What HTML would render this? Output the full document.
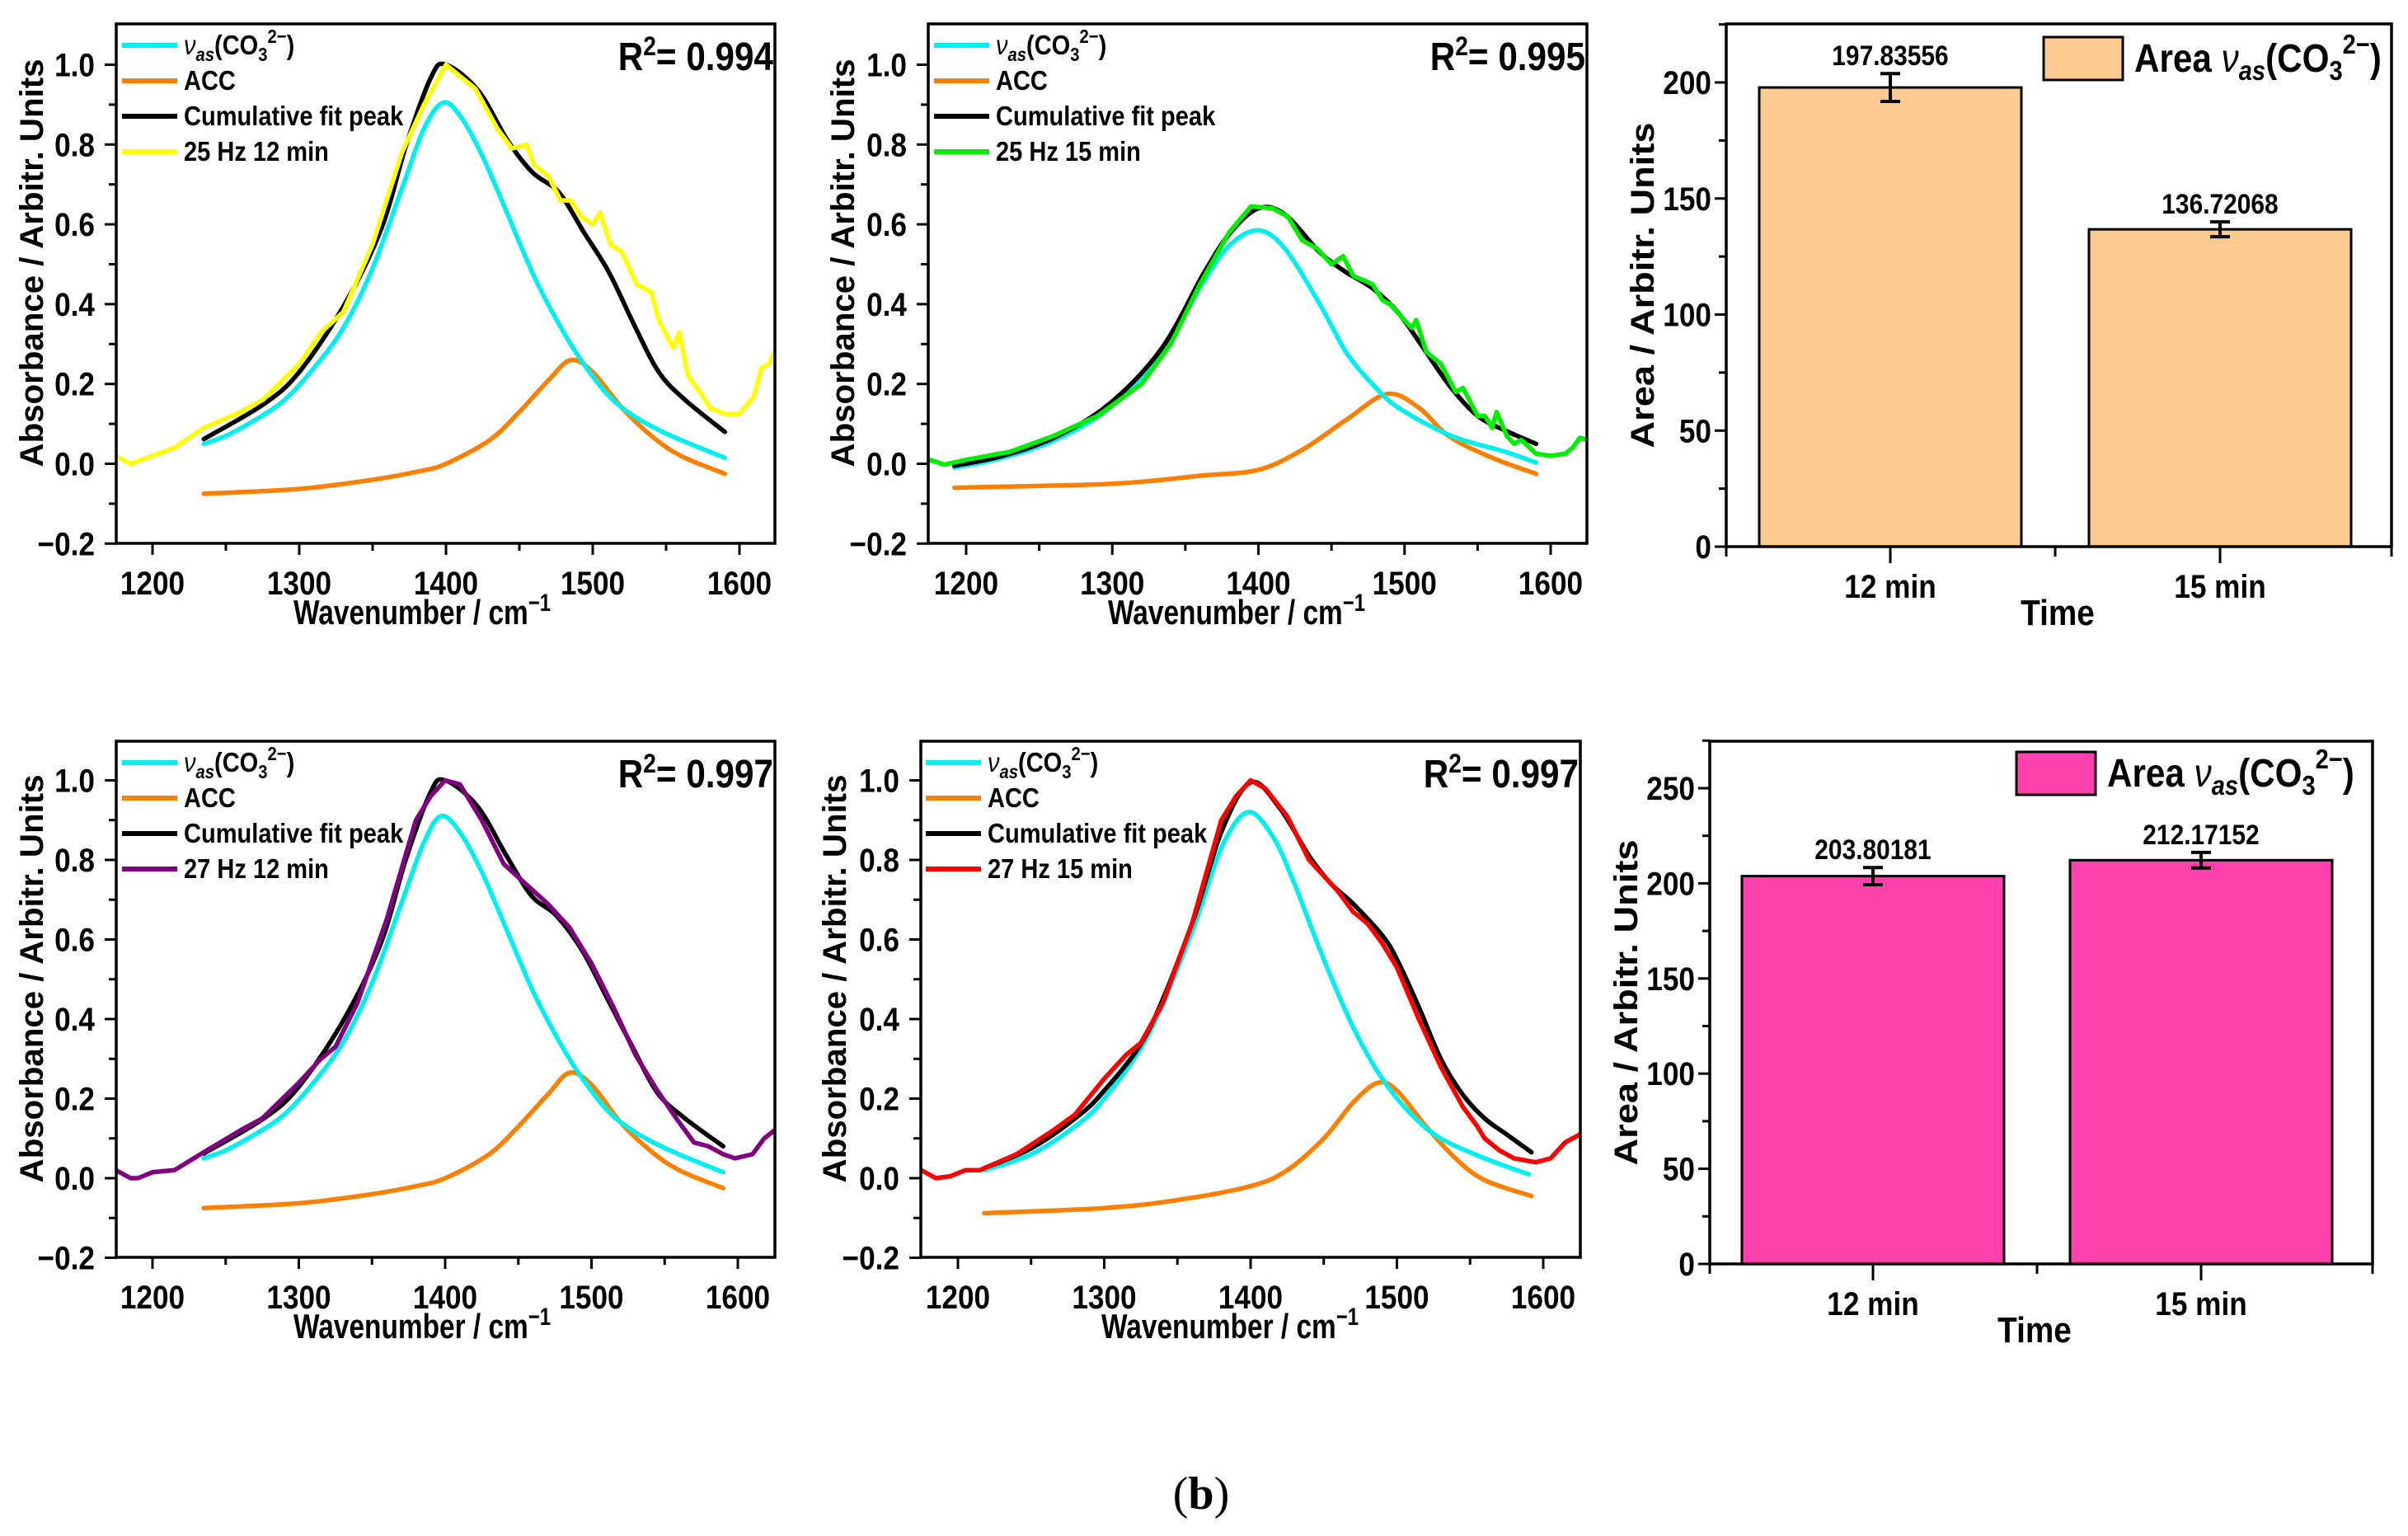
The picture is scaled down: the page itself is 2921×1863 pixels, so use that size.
<!DOCTYPE html>
<html><head><meta charset="utf-8"><style>
html,body{margin:0;padding:0;background:#fff;}
svg{display:block;}
text{font-family:"Liberation Sans Narrow","Liberation Sans",Arial,sans-serif;font-weight:bold;fill:#000;}
.wide{font-family:"Liberation Sans",Arial,sans-serif;}
</style></head>
<body>
<svg id="fig" xmlns="http://www.w3.org/2000/svg" width="2921" height="1863" viewBox="0 0 2921 1863">
<text x="1457" y="1830" text-anchor="middle" style="font-family:'Liberation Serif',serif;font-size:56px;font-weight:normal">(<tspan font-weight="bold">b</tspan>)</text>
</svg>
<script>
// ---- Panel 1: 25 Hz 12 min ----
const p1CyanX=[1235,1250,1270,1290,1310,1330,1350,1370,1385,1398,1410,1425,1442,1460,1477,1492,1511,1528,1545,1563,1590];
const p1CyanY=[0.05,0.07,0.11,0.16,0.24,0.34,0.49,0.69,0.84,0.905,0.87,0.77,0.625,0.47,0.35,0.26,0.17,0.12,0.085,0.055,0.015];
const p1AccX=[1235,1300,1350,1380,1400,1430,1450,1470,1485,1500,1520,1540,1560,1590];
const p1AccY=[-0.075,-0.063,-0.04,-0.02,0.0,0.06,0.13,0.21,0.26,0.23,0.14,0.07,0.02,-0.025];
const p1FitX=[1235,1276,1300,1331,1356,1373,1390,1400,1422,1442,1459,1477,1494,1511,1528,1545,1563,1590];
const p1FitY=[0.062,0.15,0.23,0.40,0.59,0.80,0.97,1.0,0.935,0.81,0.73,0.68,0.58,0.48,0.35,0.23,0.16,0.08];
const p1DataX=[1175,1185,1200,1215,1235,1260,1275,1300,1315,1330,1350,1370,1385,1400,1410,1420,1435,1445,1455,1460,1470,1478,1485,1492,1500,1505,1512,1520,1530,1540,1545,1555,1559,1565,1575,1580,1590,1600,1610,1615,1620,1624];
const p1DataY=[0.02,0.0,0.02,0.04,0.09,0.13,0.16,0.25,0.33,0.38,0.55,0.78,0.9,1.0,0.97,0.94,0.84,0.79,0.8,0.75,0.72,0.66,0.66,0.62,0.6,0.63,0.55,0.53,0.45,0.43,0.36,0.29,0.33,0.22,0.17,0.14,0.125,0.125,0.17,0.24,0.25,0.28];
// ---- Panel 2: 25 Hz 15 min ----
const p2CyanX=[1192,1225,1261,1298,1334,1363,1381,1400,1418,1442,1460,1478,1496,1532,1569,1590];
const p2CyanY=[-0.01,0.015,0.06,0.14,0.28,0.46,0.55,0.585,0.54,0.40,0.28,0.20,0.14,0.07,0.03,0.003];
const p2AccX=[1192,1300,1360,1400,1430,1460,1488,1510,1530,1560,1590];
const p2AccY=[-0.06,-0.05,-0.03,-0.015,0.035,0.11,0.175,0.14,0.07,0.015,-0.025];
const p2FitX=[1192,1225,1261,1298,1334,1363,1381,1400,1418,1442,1460,1478,1496,1514,1532,1550,1569,1590];
const p2FitY=[-0.005,0.02,0.067,0.15,0.29,0.48,0.58,0.64,0.625,0.53,0.48,0.44,0.377,0.284,0.19,0.12,0.083,0.05];
const p2DataX=[1175,1185,1200,1230,1260,1290,1320,1340,1360,1380,1395,1410,1420,1430,1440,1450,1458,1465,1472,1478,1485,1490,1500,1505,1508,1515,1525,1535,1540,1550,1555,1560,1563,1570,1575,1580,1590,1600,1610,1615,1620,1625];
const p2DataY=[0.01,-0.002,0.01,0.03,0.07,0.12,0.2,0.3,0.45,0.58,0.645,0.64,0.62,0.56,0.54,0.5,0.52,0.47,0.46,0.45,0.41,0.40,0.36,0.34,0.36,0.28,0.25,0.18,0.19,0.12,0.12,0.09,0.13,0.07,0.05,0.06,0.025,0.02,0.025,0.04,0.065,0.06];
// ---- Panel 3: 27 Hz 12 min ----
const p3CyanX=[1235,1250,1270,1290,1310,1330,1350,1370,1385,1397,1410,1425,1442,1460,1477,1492,1511,1528,1545,1563,1590];
const p3CyanY=[0.05,0.07,0.11,0.16,0.24,0.34,0.49,0.69,0.84,0.91,0.87,0.77,0.625,0.47,0.35,0.26,0.17,0.12,0.085,0.055,0.015];
const p3AccX=[1235,1300,1350,1380,1400,1430,1450,1470,1485,1500,1520,1540,1560,1590];
const p3AccY=[-0.075,-0.063,-0.04,-0.02,0.0,0.06,0.13,0.21,0.265,0.235,0.14,0.07,0.02,-0.025];
const p3FitX=[1235,1276,1300,1331,1356,1373,1390,1400,1422,1442,1459,1476,1494,1511,1528,1545,1563,1590];
const p3FitY=[0.062,0.15,0.23,0.40,0.59,0.80,0.97,1.0,0.935,0.81,0.71,0.66,0.57,0.45,0.33,0.215,0.153,0.08];
const p3DataX=[1175,1185,1190,1200,1215,1235,1260,1275,1300,1315,1325,1340,1360,1380,1390,1400,1410,1425,1440,1455,1470,1485,1500,1515,1530,1545,1558,1570,1580,1590,1598,1610,1618,1625];
const p3DataY=[0.02,0.0,0.0,0.015,0.02,0.065,0.12,0.15,0.24,0.30,0.33,0.44,0.65,0.9,0.96,1.0,0.99,0.9,0.79,0.74,0.69,0.63,0.54,0.43,0.31,0.22,0.15,0.09,0.08,0.06,0.05,0.06,0.1,0.12];
// ---- Panel 4: 27 Hz 15 min ----
const p4CyanX=[1218,1250,1280,1300,1330,1360,1380,1398,1415,1430,1450,1470,1490,1510,1530,1560,1590];
const p4CyanY=[0.02,0.06,0.13,0.2,0.36,0.62,0.83,0.92,0.86,0.74,0.55,0.38,0.25,0.16,0.1,0.05,0.01];
const p4AccX=[1218,1300,1350,1400,1425,1450,1470,1487,1500,1520,1540,1560,1592];
const p4AccY=[-0.088,-0.075,-0.055,-0.02,0.02,0.1,0.19,0.24,0.22,0.13,0.05,-0.005,-0.045];
const p4FitX=[1218,1250,1280,1300,1330,1360,1380,1400,1420,1440,1455,1470,1490,1500,1515,1530,1545,1560,1575,1592];
const p4FitY=[0.025,0.075,0.15,0.22,0.37,0.64,0.87,0.995,0.93,0.81,0.74,0.69,0.61,0.55,0.43,0.30,0.21,0.15,0.11,0.065];
const p4DataX=[1175,1185,1195,1205,1215,1240,1265,1280,1300,1315,1325,1340,1360,1380,1390,1400,1410,1425,1440,1450,1460,1470,1480,1490,1500,1515,1530,1545,1555,1560,1570,1580,1595,1605,1615,1625];
const p4DataY=[0.02,0.0,0.005,0.02,0.02,0.06,0.12,0.16,0.25,0.31,0.34,0.44,0.64,0.9,0.96,1.0,0.98,0.91,0.8,0.76,0.72,0.67,0.64,0.59,0.53,0.4,0.28,0.18,0.13,0.1,0.07,0.05,0.04,0.05,0.09,0.11];
// ---- Tick labels ----
const specXTicks=[1200,1300,1400,1500,1600];
const specYTicks=[-0.2,0,0.2,0.4,0.6,0.8,1.0];
const specYTickLabels=["\u22120.2","0.0","0.2","0.4","0.6","0.8","1.0"];
const r2Values=["0.994","0.995","0.997","0.997"];
// ---- Bar charts ----
const barCategories=["12 min","15 min"];
const bar1Values=[197.83556,136.72068];
const bar1Errors=[6,3.2];
const bar1Labels=["197.83556","136.72068"];
const bar1YTicks=[0,50,100,150,200];
const bar2Values=[203.80181,212.17152];
const bar2Errors=[4.5,4.1];
const bar2Labels=["203.80181","212.17152"];
const bar2YTicks=[0,50,100,150,200,250];

const NS="http://www.w3.org/2000/svg";
const svg=document.getElementById('fig');
const SX=0.88;
function mk(tag,attrs,parent){const e=document.createElementNS(NS,tag);for(const k in attrs)e.setAttribute(k,attrs[k]);(parent||svg).appendChild(e);return e;}
function ntext(parent,x,y,anchor,size,content,html){
  const t=mk('text',{x:0,y:0,'text-anchor':anchor,'font-size':size,transform:'translate('+x+','+y+') scale('+SX+',1)'},parent);
  if(html)t.innerHTML=content;else t.textContent=content;
  return t;
}
function smoothPath(pts){
  let d="M"+pts[0][0].toFixed(1)+","+pts[0][1].toFixed(1);
  for(let i=0;i<pts.length-1;i++){
    const p0=pts[i-1]||pts[i],p1=pts[i],p2=pts[i+1],p3=pts[i+2]||p2;
    const c1x=p1[0]+(p2[0]-p0[0])/6,c1y=p1[1]+(p2[1]-p0[1])/6;
    const c2x=p2[0]-(p3[0]-p1[0])/6,c2y=p2[1]-(p3[1]-p1[1])/6;
    d+=" C"+c1x.toFixed(1)+","+c1y.toFixed(1)+" "+c2x.toFixed(1)+","+c2y.toFixed(1)+" "+p2[0].toFixed(1)+","+p2[1].toFixed(1);
  }
  return d;
}
function specPanel(cfg){
  const g=mk('g',{});
  
  
  const xs=v=>cfg.x1200+(v-1200)*(cfg.x1600-cfg.x1200)/400;
  const ys=v=>cfg.y0+(cfg.y1-cfg.y0)*v;
  const clip='clip-'+cfg.name;
  const cp=mk('clipPath',{id:clip},g);
  mk('rect',{x:cfg.L,y:cfg.T,width:cfg.R-cfg.L,height:cfg.B-cfg.T},cp);
  const series=[
    {x:cfg.dataX,y:cfg.dataY,c:cfg.dataColor,n:'data-curve',smooth:false},
    {x:cfg.accX,y:cfg.accY,c:'#ff8000',n:'acc-fit-curve',smooth:true},
    {x:cfg.cyanX,y:cfg.cyanY,c:'#00f0f0',n:'nu-as-fit-curve',smooth:true},
    {x:cfg.fitX,y:cfg.fitY,c:'#000',n:'cumulative-fit-curve',smooth:true}
  ];
  [1,2,3,0].forEach(i=>{const s=series[i];
    const pts=s.x.map((v,j)=>[xs(v),ys(s.y[j])]);
    const d=s.smooth?smoothPath(pts):"M"+pts.map(p=>p[0].toFixed(1)+","+p[1].toFixed(1)).join(" L");
    const p=mk('path',{d:d,fill:'none',stroke:s.c,'stroke-width':5.5,'stroke-linejoin':'round','stroke-linecap':'round','clip-path':'url(#'+clip+')'},g);
    
    
  });
  const frame=mk('rect',{x:cfg.L,y:cfg.T,width:cfg.R-cfg.L,height:cfg.B-cfg.T,fill:'none',stroke:'#000','stroke-width':3.5},g);
  
  
  for(let v=1200;v<=1600;v+=50){const x=xs(v);const maj=v%100===0;
    mk('line',{x1:x,y1:cfg.B,x2:x,y2:cfg.B+(maj?14:9),stroke:'#000','stroke-width':3},g);}
  specXTicks.forEach(v=>{const t=ntext(g,xs(v),cfg.B+62,'middle',40,String(v));
    
    });
  for(let k=-2;k<=10;k++){const v=k/10;const y=ys(v);const maj=k%2===0;
    mk('line',{x1:cfg.L,y1:y,x2:cfg.L-(maj?14:9),y2:y,stroke:'#000','stroke-width':3},g);}
  specYTicks.forEach((v,i)=>{const t=ntext(g,cfg.L-26,ys(v)+14,'end',40,specYTickLabels[i]);
    
    });
  const xt=mk('text',{x:cfg.xtX,y:cfg.B+98,'text-anchor':'middle','font-size':42,textLength:312,lengthAdjust:'spacingAndGlyphs'},g);
  xt.innerHTML='Wavenumber / cm<tspan dy="-16" font-size="30">\u22121</tspan>';
  
  
  const cy=(cfg.T+cfg.B)/2-25;
  const yt=mk('text',{x:0,y:0,'text-anchor':'middle','font-size':40,class:'wide',transform:'translate('+(cfg.ytX)+','+cy+') rotate(-90)',textLength:495,lengthAdjust:'spacingAndGlyphs'},g);
  yt.textContent='Absorbance / Arbitr. Units';
  
  
  const r2=ntext(g,cfg.R-2,cfg.T+56,'end',48,'R<tspan dy="-18" font-size="32">2</tspan><tspan dy="18">= '+cfg.r2+'</tspan>',true);
  
  
  const ent=[['#00f0f0','nu'],['#ff8000','ACC'],['#000','Cumulative fit peak'],[cfg.dataColor,cfg.dataLabel]];
  ent.forEach((e,i)=>{const y=cfg.T+26+i*43;
    const lg=mk('g',{},g);
    
    
    mk('line',{x1:cfg.lx,y1:y,x2:cfg.lx+67,y2:y,stroke:e[0],'stroke-width':6},lg);
    if(e[1]==='nu'){ntext(lg,cfg.lx+75,y+11,'start',33,'<tspan font-style="italic" font-weight="normal">\u03BD</tspan><tspan dy="8" font-size="23" font-style="italic">as</tspan><tspan dy="-8">(CO</tspan><tspan dy="8" font-size="23">3</tspan><tspan dy="-22" font-size="23">2\u2212</tspan><tspan dy="14">)</tspan>',true);}
    else ntext(lg,cfg.lx+75,y+11,'start',33,e[1]);
  });
}
specPanel({name:'panel-25hz-12min',L:141,R:940,T:29,B:659,x1200:185,x1600:897,y0:562.5,y1:78.5,cyanX:p1CyanX,cyanY:p1CyanY,accX:p1AccX,accY:p1AccY,fitX:p1FitX,fitY:p1FitY,dataX:p1DataX,dataY:p1DataY,dataColor:'#ffff00',dataLabel:'25 Hz 12 min',r2:r2Values[0],lx:148,xtX:512,ytX:52});
specPanel({name:'panel-25hz-15min',L:1126,R:1925,T:29,B:659,x1200:1172,x1600:1881,y0:562.5,y1:78.5,cyanX:p2CyanX,cyanY:p2CyanY,accX:p2AccX,accY:p2AccY,fitX:p2FitX,fitY:p2FitY,dataX:p2DataX,dataY:p2DataY,dataColor:'#00ee00',dataLabel:'25 Hz 15 min',r2:r2Values[1],lx:1133,xtX:1500,ytX:1036});
specPanel({name:'panel-27hz-12min',L:141,R:940,T:899,B:1525,x1200:185,x1600:895,y0:1429,y1:946.5,cyanX:p3CyanX,cyanY:p3CyanY,accX:p3AccX,accY:p3AccY,fitX:p3FitX,fitY:p3FitY,dataX:p3DataX,dataY:p3DataY,dataColor:'#800080',dataLabel:'27 Hz 12 min',r2:r2Values[2],lx:148,xtX:512,ytX:52});
specPanel({name:'panel-27hz-15min',L:1117,R:1917,T:899,B:1525,x1200:1162,x1600:1872,y0:1429,y1:946.5,cyanX:p4CyanX,cyanY:p4CyanY,accX:p4AccX,accY:p4AccY,fitX:p4FitX,fitY:p4FitY,dataX:p4DataX,dataY:p4DataY,dataColor:'#ff0000',dataLabel:'27 Hz 15 min',r2:r2Values[3],lx:1123,xtX:1492,ytX:1026});

function barPanel(cfg){
  const g=mk('g',{});
  
  
  const ys=v=>cfg.B-v*cfg.k;
  cfg.values.forEach((v,i)=>{const cx=cfg.centers[i];
    const r=mk('rect',{x:cx-159,y:ys(v),width:318,height:cfg.B-ys(v),fill:cfg.color,stroke:'#000','stroke-width':3},g);
    
    
    const e=cfg.errors[i];
    const eg=mk('g',{stroke:'#000','stroke-width':4},g);
    
    
    mk('line',{x1:cx,y1:ys(v+e),x2:cx,y2:ys(v-e)},eg);
    mk('line',{x1:cx-12,y1:ys(v+e),x2:cx+12,y2:ys(v+e)},eg);
    mk('line',{x1:cx-12,y1:ys(v-e),x2:cx+12,y2:ys(v-e)},eg);
    const t=ntext(g,cx,ys(v+e)-10,'middle',34,cfg.labels[i]);
    
    
    const c=ntext(g,cx,cfg.B+62,'middle',40,barCategories[i]);
    
    
  });
  const frame=mk('rect',{x:cfg.L,y:cfg.T,width:cfg.R-cfg.L,height:cfg.B-cfg.T,fill:'none',stroke:'#000','stroke-width':3.5},g);
  
  
  const mid=(cfg.centers[0]+cfg.centers[1])/2;
  [cfg.L,cfg.centers[0],mid,cfg.centers[1],cfg.R].forEach((x,i)=>mk('line',{x1:x,y1:cfg.B,x2:x,y2:cfg.B+(i%2?20:12),stroke:'#000','stroke-width':3},g));
  const top=cfg.yTicks[cfg.yTicks.length-1]+25;
  for(let v=0;v<=top;v+=25){if(ys(v)<cfg.T-1)break;mk('line',{x1:cfg.L,y1:ys(v),x2:cfg.L-(v%50===0?14:9),y2:ys(v),stroke:'#000','stroke-width':3},g);}
  cfg.yTicks.forEach(v=>{const t=ntext(g,cfg.L-18,ys(v)+14,'end',40,String(v));
    
    });
  const xt=ntext(g,cfg.xtX,cfg.B+95,'middle',44,'Time');
  
  
  const yt=mk('text',{x:0,y:0,'text-anchor':'middle','font-size':40,class:'wide',transform:'translate('+cfg.ytX+','+cfg.ytY+') rotate(-90)',textLength:395,lengthAdjust:'spacingAndGlyphs'},g);
  yt.textContent='Area / Arbitr. Units';
  
  
  const lg=mk('g',{},g);
  
  
  mk('rect',{x:cfg.lx,y:cfg.ly,width:96,height:52,fill:cfg.color,stroke:'#000','stroke-width':3},lg);
  ntext(lg,cfg.lx+110,cfg.ly+42,'start',48,'Area <tspan font-style="italic" font-weight="normal">\u03BD</tspan><tspan dy="10" font-size="33" font-style="italic">as</tspan><tspan dy="-10">(CO</tspan><tspan dy="10" font-size="33">3</tspan><tspan dy="-32" font-size="33">2\u2212</tspan><tspan dy="22">)</tspan>',true);
}
barPanel({name:'bar-chart-25hz',L:2094,R:2901,T:29,B:663,k:2.815,centers:[2293,2693],values:bar1Values,errors:bar1Errors,labels:bar1Labels,yTicks:bar1YTicks,color:'#fdcb92',xtX:2496,ytX:2006,ytY:346,lx:2479,ly:45});
barPanel({name:'bar-chart-27hz',L:2074,R:2878,T:899,B:1533,k:2.308,centers:[2272,2670],values:bar2Values,errors:bar2Errors,labels:bar2Labels,yTicks:bar2YTicks,color:'#ff40ad',xtX:2468,ytX:1986,ytY:1216,lx:2446,ly:912});
</script>
</body></html>
